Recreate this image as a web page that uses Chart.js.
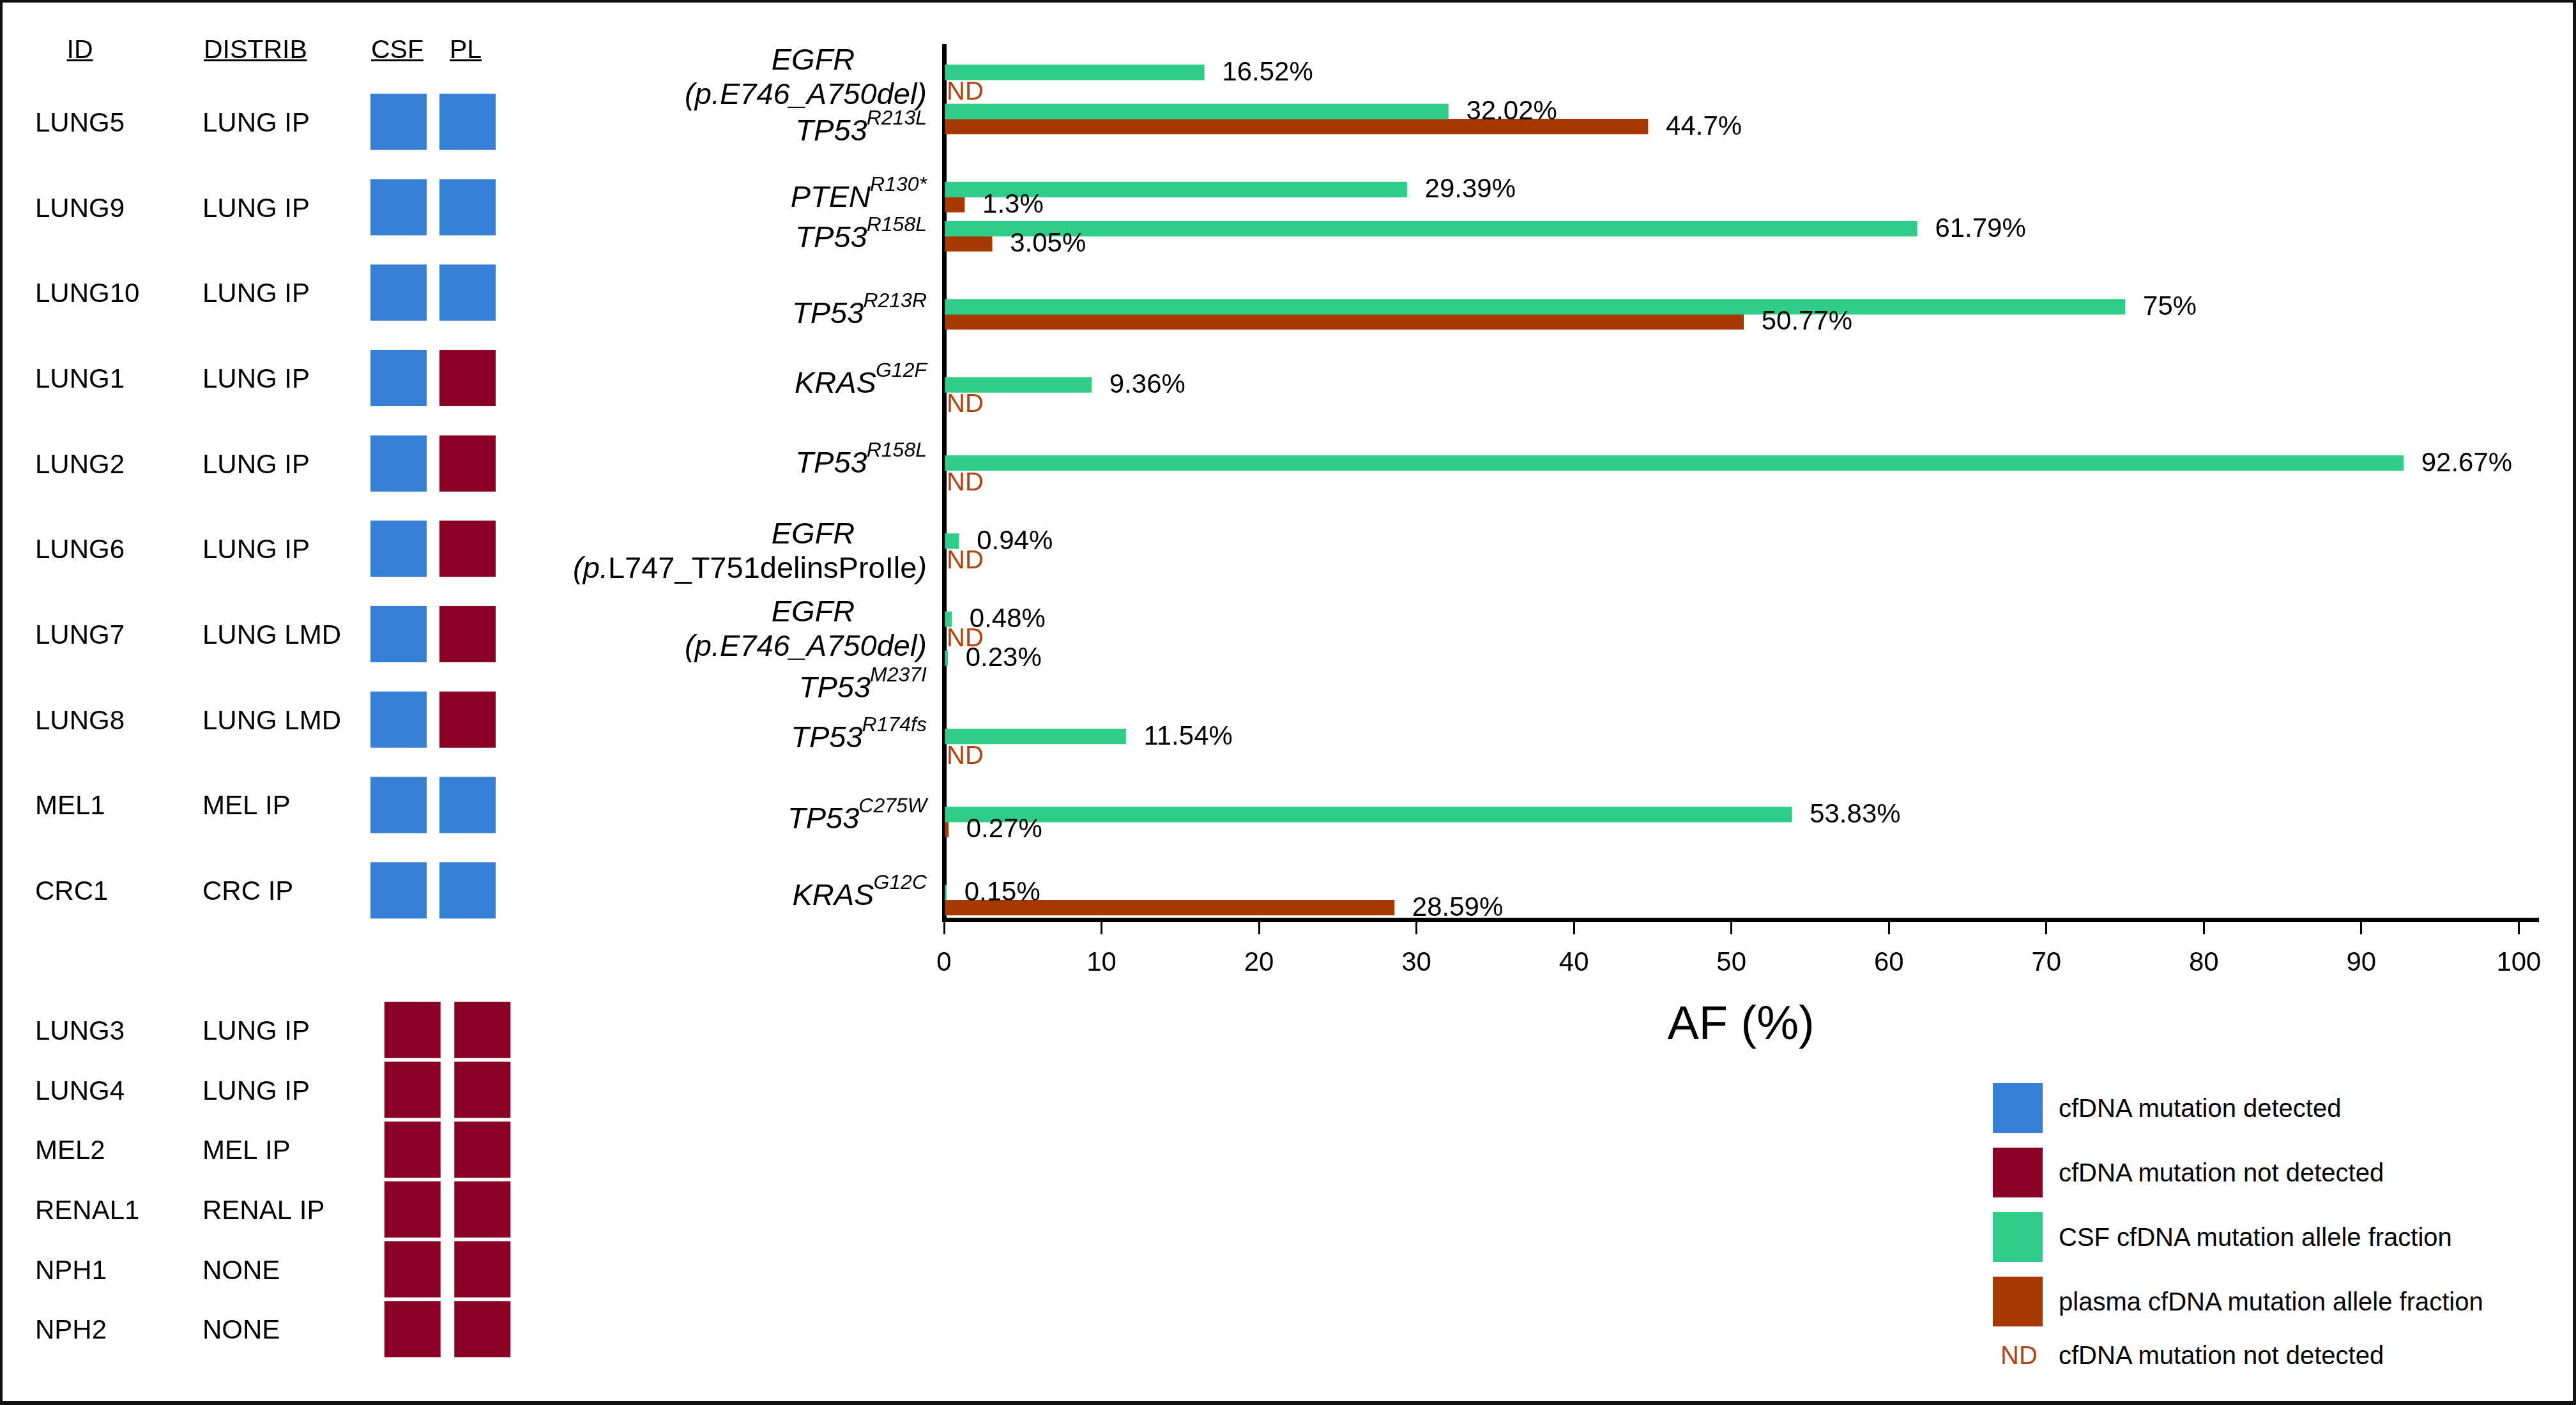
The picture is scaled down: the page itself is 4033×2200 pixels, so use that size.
<!DOCTYPE html>
<html>
<head>
<meta charset="utf-8">
<script src="https://cdn.jsdelivr.net/npm/chart.js@4.4.1/dist/chart.umd.min.js"></script>
<style>
html,body{margin:0;padding:0;background:#fff;}
#page{position:relative;width:4033px;height:2200px;overflow:hidden;background:#fff;font-family:"Liberation Sans",Arial,Helvetica,sans-serif;color:#000;}
#frame{position:absolute;left:0;top:0;width:4033px;height:2200px;box-sizing:border-box;border-style:solid;border-color:#111;border-width:4px 5px 6px 4px;pointer-events:none;}
canvas{position:absolute;}
#legend{position:absolute;left:3120px;top:1696px;font-size:40px;line-height:50px;}
.sw{position:absolute;left:0;width:78px;height:78px;}
.lt{position:absolute;left:103px;white-space:nowrap;height:50px;}
.nd{position:absolute;left:12px;color:#B3420D;white-space:nowrap;height:50px;}
</style>
</head>
<body>
<div id="page">
  <canvas id="tableTop" width="860" height="1480" style="left:0;top:0;width:860px;height:1480px;"></canvas>
  <canvas id="tableBottom" width="860" height="715" style="left:0;top:1480px;width:860px;height:715px;"></canvas>
  <canvas id="bars" width="3168" height="1700" style="left:860px;top:4px;width:3168px;height:1700px;"></canvas>
  <div id="legend"></div>
  <div id="frame"></div>
</div>
<script>
// ---------------- data ----------------
const patientIds   = ['LUNG5','LUNG9','LUNG10','LUNG1','LUNG2','LUNG6','LUNG7','LUNG8','MEL1','CRC1','LUNG3','LUNG4','MEL2','RENAL1','NPH1','NPH2'];
const distribution = ['LUNG IP','LUNG IP','LUNG IP','LUNG IP','LUNG IP','LUNG IP','LUNG LMD','LUNG LMD','MEL IP','CRC IP','LUNG IP','LUNG IP','MEL IP','RENAL IP','NONE','NONE'];
const csfDetected    = [true,true,true,true,true,true,true,true,true,true,false,false,false,false,false,false];
const plasmaDetected = [true,true,true,false,false,false,false,false,true,true,false,false,false,false,false,false];
const tableColumns = ['CSF','PL'];
const tableHeaders = ['ID','DISTRIB','CSF','PL'];

const mutationPatient = ['LUNG5','LUNG5','LUNG9','LUNG9','LUNG10','LUNG1','LUNG2','LUNG6','LUNG7','LUNG7','LUNG8','MEL1','CRC1'];
const geneNames    = ['EGFR','TP53','PTEN','TP53','TP53','KRAS','TP53','EGFR','EGFR','TP53','TP53','TP53','KRAS'];
const variantNames = ['p.E746_A750del','R213L','R130*','R158L','R213R','G12F','R158L','p.L747_T751delinsProIle','p.E746_A750del','M237I','R174fs','C275W','G12C'];
const csfAF    = [16.52,32.02,29.39,61.79,75,9.36,92.67,0.94,0.48,0.23,11.54,53.83,0.15];
const plasmaAF = ['ND',44.7,1.3,3.05,50.77,'ND','ND','ND','ND',null,'ND',0.27,28.59];
const xTickValues = [0,10,20,30,40,50,60,70,80,90,100];
const axisTitle = 'AF (%)';
const legendItems = [
  {swatch:'#3580D4', text:'cfDNA mutation detected'},
  {swatch:'#8A0024', text:'cfDNA mutation not detected'},
  {swatch:'#2FCD88', text:'CSF cfDNA mutation allele fraction'},
  {swatch:'#A63800', text:'plasma cfDNA mutation allele fraction'},
  {nd:'ND', text:'cfDNA mutation not detected'}
];

// ---------------- style ----------------
const FF = '"Liberation Sans", Arial, Helvetica, sans-serif';
const BLUE = '#3580D4', RED = '#8A0024', GREEN = '#2FCD88', ORANGE = '#A63800', NDC = '#B3420D';
Chart.defaults.font.family = FF;
Chart.defaults.color = '#000';

// rows: one slot per mutation, with an empty slot between patients
const rowPos = [];
mutationPatient.forEach((p, i) => {
  if (i === 0) rowPos.push(0);
  else rowPos.push(rowPos[i-1] + (p === mutationPatient[i-1] ? 1 : 2));
});
// small hand-placement nudges of the row labels (px)
const labelNudge = [-6, 17, -2, 0, -3, -16, -14, 2, 2, 32, -12, -7, -9];
const romanCore = new Set(['p.L747_T751delinsProIle']);

const fmt = v => String(v) + '%';

// ---------------- table charts ----------------
const tableText = {
  id: 'tableText',
  afterDraw(chart, args, opts) {
    const ctx = chart.ctx, ys = chart.scales.y, xs = chart.scales.x;
    ctx.save();
    ctx.fillStyle = '#000';
    ctx.textAlign = 'left';
    ctx.textBaseline = 'alphabetic';
    ctx.font = '42px ' + FF;
    for (let k = 0; k < opts.ids.length; k++) {
      const y = ys.getPixelForValue(k) + 15;
      ctx.fillText(opts.ids[k], 55, y);
      ctx.fillText(opts.dist[k], 317, y);
    }
    if (opts.header) {
      ctx.font = '41px ' + FF;
      const hx = [125, null, xs.getPixelForValue(0) - 2, xs.getPixelForValue(1) - 3];
      tableHeaders.forEach((h, j) => {
        const w = ctx.measureText(h).width;
        const x0 = j === 1 ? 319 : hx[j] - w / 2;
        ctx.fillText(h, x0, 91);
        ctx.fillRect(x0, 93, w, 3);
      });
    }
    ctx.restore();
  }
};

function tableChart(id, start, end, padding, header) {
  const det = [], nd = [];
  for (let i = start; i < end; i++) {
    (csfDetected[i] ? det : nd).push({x: 'CSF', y: patientIds[i]});
    (plasmaDetected[i] ? det : nd).push({x: 'PL', y: patientIds[i]});
  }
  return new Chart(document.getElementById(id), {
    type: 'scatter',
    data: {datasets: [
      {label: 'cfDNA mutation detected', data: det, backgroundColor: BLUE, pointStyle: 'rect', pointRadius: 62.2, pointHoverRadius: 62.2, pointBorderWidth: 0, clip: false},
      {label: 'cfDNA mutation not detected', data: nd, backgroundColor: RED, pointStyle: 'rect', pointRadius: 62.2, pointHoverRadius: 62.2, pointBorderWidth: 0, clip: false}
    ]},
    options: {
      responsive: false, animation: false, devicePixelRatio: 1,
      layout: {padding, autoPadding: false},
      plugins: {legend: {display: false}, tooltip: {enabled: false},
        tableText: {ids: patientIds.slice(start, end), dist: distribution.slice(start, end), header}},
      scales: {
        x: {type: 'category', labels: tableColumns, offset: true, display: false},
        y: {type: 'category', labels: patientIds.slice(start, end), offset: true, display: false}
      }
    },
    plugins: [tableText]
  });
}
tableChart('tableTop', 0, 10, {left: 570, right: 74, top: 124, bottom: 19}, true);
tableChart('tableBottom', 10, 16, {left: 591, right: 50, top: 86, bottom: 67}, false);

// ---------------- bar chart ----------------
function drawSegs(ctx, segs, xRight, base) {
  let x = xRight;
  for (let s = segs.length - 1; s >= 0; s--) {
    ctx.font = segs[s].font;
    const w = ctx.measureText(segs[s].t).width;
    ctx.fillText(segs[s].t, x - w, base);
    x -= w;
  }
}

const mutLabels = {
  id: 'mutLabels',
  afterDraw(chart) {
    const ctx = chart.ctx, ys = chart.scales.y;
    const xr = chart.chartArea.left - 27;
    const IT = 'italic 47px ' + FF, RO = '47px ' + FF, SUP = 'italic 32px ' + FF;
    ctx.save();
    ctx.fillStyle = '#000';
    ctx.textAlign = 'left';
    ctx.textBaseline = 'alphabetic';
    geneNames.forEach((g, i) => {
      const yc = ys.getPixelForValue(rowPos[i]) + labelNudge[i];
      const v = variantNames[i];
      if (v.startsWith('p.')) {
        ctx.font = IT;
        const wg = ctx.measureText(g).width;
        ctx.fillText(g, xr - 178 - wg / 2, yc - 27 + 17);
        let segs;
        if (romanCore.has(v)) {
          segs = [{t: '(p.', font: IT}, {t: v.slice(2), font: RO}, {t: ')', font: IT}];
        } else {
          segs = [{t: '(' + v + ')', font: IT}];
        }
        drawSegs(ctx, segs, xr, yc + 27 + 17);
      } else {
        const base = yc + 17;
        ctx.font = SUP;
        const ws = ctx.measureText(v).width;
        ctx.fillText(v, xr - ws, base - 25);
        ctx.font = IT;
        const wm = ctx.measureText(g).width;
        ctx.fillText(g, xr - ws - wm + 1, base);
      }
    });
    ctx.restore();
  },
  afterDatasetsDraw(chart) {
    const ctx = chart.ctx;
    const m0 = chart.getDatasetMeta(0), m1 = chart.getDatasetMeta(1);
    ctx.save();
    ctx.font = '42px ' + FF;
    ctx.textAlign = 'left';
    ctx.textBaseline = 'middle';
    csfAF.forEach((v, i) => {
      const el = m0.data[i];
      ctx.fillStyle = '#000';
      ctx.fillText(fmt(v), el.x + 28, el.y + 1);
    });
    plasmaAF.forEach((v, i) => {
      const el = m1.data[i];
      if (typeof v === 'number') {
        ctx.fillStyle = '#000';
        ctx.fillText(fmt(v), el.x + 28, el.y + 1);
      } else if (v === 'ND') {
        ctx.fillStyle = NDC;
        ctx.font = '40px ' + FF;
        ctx.fillText('ND', chart.chartArea.left + 4, el.y + 8);
        ctx.font = '42px ' + FF;
      }
    });
    ctx.restore();
  }
};

new Chart(document.getElementById('bars'), {
  type: 'bar',
  data: {
    datasets: [
      {label: 'CSF cfDNA mutation allele fraction', data: csfAF.map((v, i) => ({x: v, y: rowPos[i]})),
       backgroundColor: GREEN, borderWidth: 0, barThickness: 23.5},
      {label: 'plasma cfDNA mutation allele fraction', data: plasmaAF.map((v, i) => ({x: typeof v === 'number' ? v : null, y: rowPos[i]})),
       backgroundColor: ORANGE, borderWidth: 0, barThickness: 23.5}
    ]
  },
  options: {
    indexAxis: 'y',
    responsive: false, animation: false, devicePixelRatio: 1,
    layout: {padding: {left: 618, right: 55, top: 68, bottom: 0}, autoPadding: false},
    plugins: {legend: {display: false}, tooltip: {enabled: false}},
    scales: {
      x: {
        type: 'linear', min: 0, max: 101.2, position: 'bottom',
        grid: {display: true, drawOnChartArea: false, drawTicks: true, tickLength: 23, tickWidth: 3, tickColor: '#000', color: '#000', lineWidth: 3},
        border: {display: true, width: 7, color: '#000'},
        ticks: {font: {size: 42}, color: '#000', padding: 20, maxRotation: 0, autoSkip: false},
        afterBuildTicks: s => { s.ticks = xTickValues.map(v => ({value: v})); },
        title: {display: true, text: axisTitle, font: {size: 74}, color: '#000', padding: {top: 0, bottom: 53}},
        afterFit: s => { s.height = 264; }
      },
      y: {
        type: 'linear', reverse: true, min: -0.87, max: 21.5, z: 1,
        offset: false, grace: 0,
        grid: {display: false, offset: false},
        ticks: {display: false},
        border: {display: true, width: 7, color: '#000'},
        afterFit: s => { s.width = 0; }
      }
    }
  },
  plugins: [mutLabels]
});

// ---------------- legend ----------------
const lg = document.getElementById('legend');
legendItems.forEach((it, k) => {
  const top = k * 101;
  if (it.swatch) {
    const sw = document.createElement('div');
    sw.className = 'sw'; sw.style.top = top + 'px'; sw.style.background = it.swatch;
    lg.appendChild(sw);
  }
  const center = it.nd ? 426 : top + 39;
  if (it.nd) {
    const nd = document.createElement('div');
    nd.className = 'nd'; nd.style.top = (center - 25) + 'px'; nd.textContent = it.nd;
    lg.appendChild(nd);
  }
  const t = document.createElement('div');
  t.className = 'lt'; t.style.top = (center - 25) + 'px'; t.textContent = it.text;
  lg.appendChild(t);
});
</script>
</body>
</html>
